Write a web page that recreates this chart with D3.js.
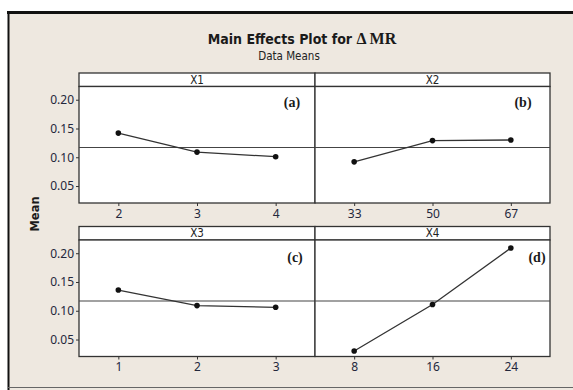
<!DOCTYPE html>
<html lang="en">
<head>
<meta charset="UTF-8">
<title>Main Effects Plot</title>
<script src="https://d3js.org/d3.v7.min.js"></script>
<style>
  body { margin: 0; background: #fff; }
  svg { display: block; }
  .tick text { font-family: "Noto Sans", sans-serif; font-size: 12px; fill: #23273c; }
  .tick line { stroke: #333; }
</style>
</head>
<body>
<svg id="chart"></svg>
<script>
const width = 573;
const height = 390;

// values
const factors = ["X1", "X2", "X3", "X4"];
const levels = [["2", "3", "4"], ["33", "50", "67"], ["1", "2", "3"], ["8", "16", "24"]];
const means = [
  [0.142, 0.109, 0.101],
  [0.092, 0.129, 0.130],
  [0.136, 0.109, 0.106],
  [0.030, 0.111, 0.209]
];
const tags = ["(a)", "(b)", "(c)", "(d)"];
const yTicks = [0.05, 0.10, 0.15, 0.20];
const grandMean = 0.117;

const colX = [[79, 315], [315, 550]];
const rowTop = [86.5, 240];
const panelH = 116.5;
const stripH = 13.5;
const tagPos = [[292, 107], [523, 107], [295, 262], [537, 262]];

const bg = "#eee8e0";
const ink = "#333";

const svg = d3.select("#chart")
  .attr("width", width)
  .attr("height", height);

// frame
svg.append("rect").attr("x", 8).attr("y", 12).attr("width", width - 8).attr("height", height - 12).attr("fill", bg);
svg.append("line").attr("x1", 7).attr("x2", width).attr("y1", 12.5).attr("y2", 12.5).attr("stroke", "#111").attr("stroke-width", 3);
svg.append("line").attr("x1", 8.5).attr("x2", 8.5).attr("y1", 11).attr("y2", height).attr("stroke", "#111").attr("stroke-width", 2);
svg.append("line").attr("x1", 8).attr("x2", width).attr("y1", 387.5).attr("y2", 387.5).attr("stroke", "#666").attr("stroke-width", 1);

// title
const title = svg.append("text")
  .attr("x", 302).attr("y", 44)
  .attr("text-anchor", "middle")
  .attr("font-weight", "bold")
  .attr("fill", "#1a1a1a");
title.append("tspan").attr("font-family", "'DejaVu Sans Condensed', 'DejaVu Sans', sans-serif").attr("font-size", 14).text("Main Effects Plot for ");
title.append("tspan").attr("font-family", "'Liberation Serif', serif").attr("font-size", 16).text("\u0394 MR");

svg.append("text")
  .attr("x", 289).attr("y", 60)
  .attr("text-anchor", "middle")
  .attr("font-family", "'DejaVu Sans Condensed', 'DejaVu Sans', sans-serif")
  .attr("font-size", 11.5)
  .attr("fill", "#222")
  .text("Data Means");

svg.append("text")
  .attr("transform", "translate(39,214) rotate(-90)")
  .attr("text-anchor", "middle")
  .attr("font-family", "'DejaVu Sans', sans-serif")
  .attr("font-weight", "bold")
  .attr("font-size", 11.5)
  .attr("fill", "#1a1a1a")
  .text("Mean");

factors.forEach((f, i) => {
  const row = Math.floor(i / 2);
  const col = i % 2;
  const [x0, x1] = colX[col];
  const top = rowTop[row];
  const bottom = top + panelH;

  const x = d3.scalePoint().domain(levels[i]).range([x0, x1]).padding(0.5);
  const y = d3.scaleLinear().domain([0.0205, 0.223]).range([bottom, top]);

  const g = svg.append("g");

  // strip
  g.append("rect")
    .attr("x", x0).attr("y", top - stripH)
    .attr("width", x1 - x0).attr("height", stripH)
    .attr("fill", "#fff").attr("stroke", ink).attr("stroke-width", 1.3);
  g.append("text")
    .attr("x", (x0 + x1) / 2).attr("y", top - stripH / 2 + 4.2)
    .attr("text-anchor", "middle")
    .attr("font-family", "'DejaVu Sans Condensed', 'DejaVu Sans', sans-serif")
    .attr("font-size", 11.5)
    .attr("fill", "#222")
    .text(f);

  // panel
  g.append("rect")
    .attr("x", x0).attr("y", top)
    .attr("width", x1 - x0).attr("height", panelH)
    .attr("fill", "#fff").attr("stroke", ink).attr("stroke-width", 1.3);

  // reference line at grand mean
  g.append("line")
    .attr("x1", x0).attr("x2", x1)
    .attr("y1", y(grandMean)).attr("y2", y(grandMean))
    .attr("stroke", "#444").attr("stroke-width", 1.1);

  // axes
  const xa = g.append("g")
    .attr("transform", `translate(0,${bottom})`)
    .call(d3.axisBottom(x).tickSize(3).tickPadding(3));
  xa.select(".domain").remove();

  if (col === 0) {
    const ya = g.append("g")
      .attr("transform", `translate(${x0},0)`)
      .call(d3.axisLeft(y).tickValues(yTicks).tickFormat(d3.format(".2f")).tickSize(3).tickPadding(2));
    ya.select(".domain").remove();
  }

  // means
  const pts = levels[i].map((lv, j) => ({ lv, v: means[i][j] }));
  g.append("path")
    .datum(pts)
    .attr("fill", "none")
    .attr("stroke", "#333")
    .attr("stroke-width", 1.3)
    .attr("d", d3.line().x(d => x(d.lv)).y(d => y(d.v)));
  g.selectAll("circle")
    .data(pts)
    .join("circle")
    .attr("cx", d => x(d.lv))
    .attr("cy", d => y(d.v))
    .attr("r", 2.8)
    .attr("fill", "#111");

  // panel tag
  g.append("text")
    .attr("x", tagPos[i][0]).attr("y", tagPos[i][1])
    .attr("text-anchor", "middle")
    .attr("font-family", "'Liberation Serif', serif")
    .attr("font-weight", "bold")
    .attr("font-size", 14)
    .attr("fill", "#1a1a1a")
    .text(tags[i]);
});
</script>
</body>
</html>
